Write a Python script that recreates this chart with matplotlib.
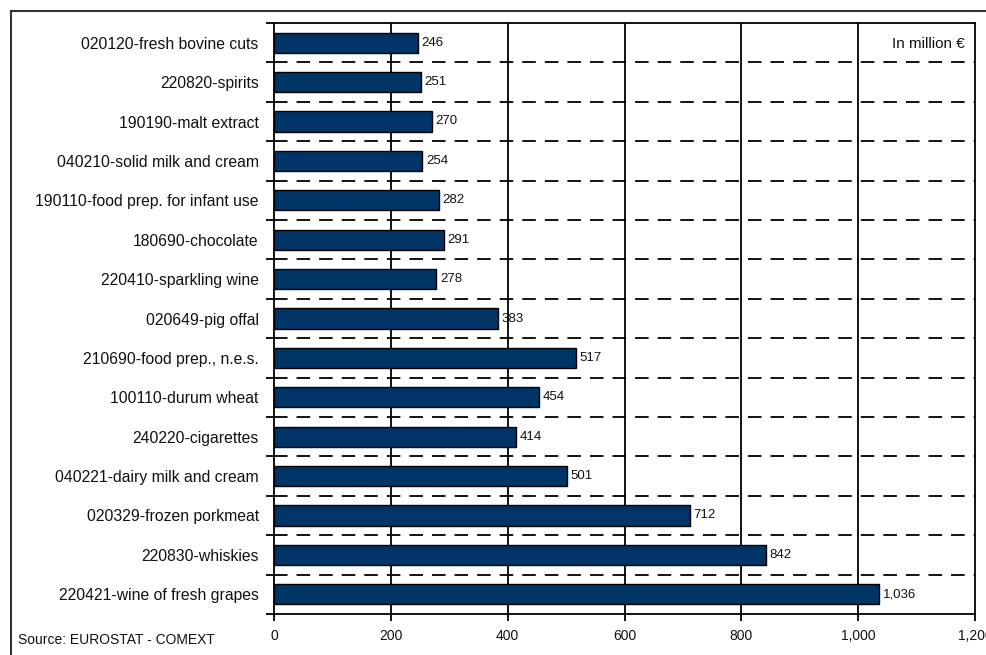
import matplotlib
matplotlib.use("Agg")
import matplotlib.pyplot as plt
from matplotlib.lines import Line2D
from matplotlib.ticker import FixedLocator, FuncFormatter

categories = [
    "020120-fresh bovine cuts",
    "220820-spirits",
    "190190-malt extract",
    "040210-solid milk and cream",
    "190110-food prep. for infant use",
    "180690-chocolate",
    "220410-sparkling wine",
    "020649-pig offal",
    "210690-food prep., n.e.s.",
    "100110-durum wheat",
    "240220-cigarettes",
    "040221-dairy milk and cream",
    "020329-frozen porkmeat",
    "220830-whiskies",
    "220421-wine of fresh grapes",
]
values = [246, 251, 270, 254, 282, 291, 278, 383, 517, 454, 414, 501, 712, 842, 1036]
x_ticks = [0, 200, 400, 600, 800, 1000, 1200]

plt.rcParams['font.family'] = ['Liberation Sans', 'DejaVu Sans']

fig = plt.figure(figsize=(9.87, 6.55), dpi=100)
ax = fig.add_axes([274/987, 41/655, 701/987, 591/655])

n = len(categories)
ypos = list(range(n))
ax.barh(ypos, values, height=0.51, color="#003366", edgecolor="black", linewidth=1.0, zorder=3)

for y, v in zip(ypos, values):
    ax.text(v + 6, y, f"{v:,}", va="center", ha="left", fontsize=9.5, zorder=4, color="#111111")

ax.set_xlim(0, 1200)
ax.set_ylim(n - 0.5, -0.5)
ax.set_yticks(ypos)
ax.set_yticklabels(categories, fontsize=11.3, color="#111111")
ax.tick_params(axis="y", which="major", length=0, pad=11)
ax.yaxis.set_minor_locator(FixedLocator([k - 0.5 for k in range(n + 1)]))
ax.tick_params(axis="y", which="minor", length=6, width=1.3, direction="out")

ax.set_xticks(x_ticks)
ax.xaxis.set_major_formatter(FuncFormatter(lambda v, p: f"{int(v):,}"))
ax.tick_params(axis="x", which="major", length=5, width=1.3, direction="out", labelsize=10, pad=6, labelcolor="#111111")

for xv in x_ticks[1:-1]:
    ax.axvline(xv, color="black", linewidth=1.3, zorder=1)
for k in range(1, n):
    ax.axhline(k - 0.5, color="black", linewidth=1.3, linestyle=(0, (7.5, 5)), zorder=1)

for s in ax.spines.values():
    s.set_linewidth(1.3)
    s.set_color("black")

ax.text(0.986, 0.965, "In million €", transform=ax.transAxes, ha="right", va="center", fontsize=11, color="#111111")

fig.text(18/987, 1 - 640/655, "Source: EUROSTAT - COMEXT", ha="left", va="center", fontsize=10, color="#111111")

fig.add_artist(Line2D([11/987, 1.0], [1 - 11/655, 1 - 11/655], transform=fig.transFigure, color="#333333", linewidth=1.5))
fig.add_artist(Line2D([11/987, 11/987], [0.0, 1 - 11/655], transform=fig.transFigure, color="#333333", linewidth=1.5))

fig.savefig("out.png", dpi=100)
